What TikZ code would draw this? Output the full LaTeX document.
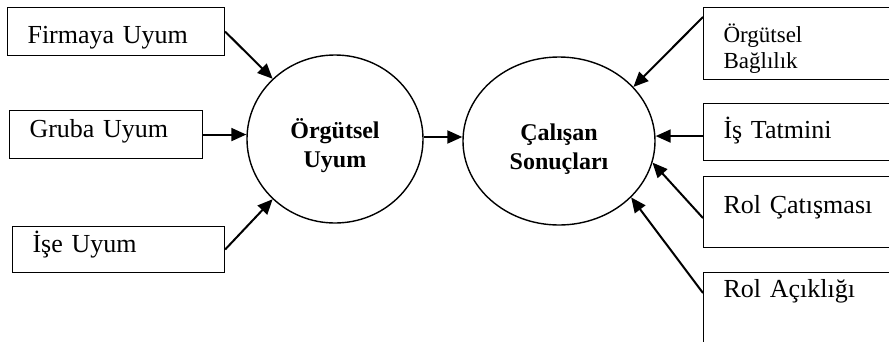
\documentclass[tikz,border=0pt]{standalone}
\usepackage{fontspec}
\setmainfont{Liberation Serif}
\usepackage{tikz}
\usetikzlibrary{positioning,%
  arrows.meta,%
  shapes.geometric
}

\tikzset{
  box/.style={draw, line width=1.1pt, anchor=north west, inner xsep=20pt, inner ysep=0pt,
    align=left, font=\fontsize{26}{30}\selectfont},
  blob/.style={draw, ellipse, line width=1.4pt, inner sep=0pt, align=center,
    text width=104pt, text height=20pt, text depth=22pt,
    minimum height=168pt, font=\fontsize{24}{29}\selectfont\bfseries},
  link/.style={line width=2pt, -{Triangle[length=15pt,width=13pt]}}
}

\begin{document}
\begin{tikzpicture}[x=1pt,y=-1pt]
  \useasboundingbox (0,0) rectangle (889,341);
  \clip (0,0) rectangle (889,341);

  % left side
  \node [box, text width=177pt, text height=36pt, text depth=12pt] (firm) at (7,7) {Firmaya Uyum};
  \node [box, text width=153pt, text height=27pt, text depth=21pt] (gruba) at (9,110) {Gruba Uyum};
  \node [box, text width=172pt, text height=26pt, text depth=20pt] (ise) at (12,226) {İşe Uyum};

  % the two circles
  \node [blob, minimum width=176pt] (ou) at (335,139) {Örgütsel\\Uyum};
  \node [blob, minimum width=192pt] (cs) at (559,141) {Çalışan\\Sonuçları};

  % right side
  \node [box, font=\fontsize{23}{25.5}\selectfont, text width=160pt, text height=35pt, text depth=37pt] (bag) at (703,7) {Örgütsel\\Bağlılık};
  \node [box, text width=160pt, text height=35pt, text depth=22pt] (tatmin) at (703,103) {İş Tatmini};
  \node [box, text width=160pt, text height=37pt, text depth=34pt] (catisma) at (703,176) {Rol Çatışması};
  \node [box, text width=160pt, text height=25pt, text depth=70pt] (aciklik) at (703,272) {Rol Açıklığı};

  \draw [link] (firm.east) -- (ou.136);
  \draw [link] (gruba.east) -- (gruba.east -| ou.west);
  \draw [link] (ise.east) -- (ou.224);
  \draw [link] ([yshift=2pt]ou.east) -- ([yshift=2pt]ou.east -| cs.west);

  \draw [link] ([yshift=-10pt]bag.north west) -- (cs.36);
  \draw [link] ([yshift=-4pt]tatmin.west) -- ([yshift=-4pt]tatmin.west -| cs.east);
  \draw [link] ([yshift=-6pt]catisma.west) -- (cs.-13);
  \draw [link] ([yshift=-21pt]aciklik.north west) -- (cs.-38);
\end{tikzpicture}
\end{document}
